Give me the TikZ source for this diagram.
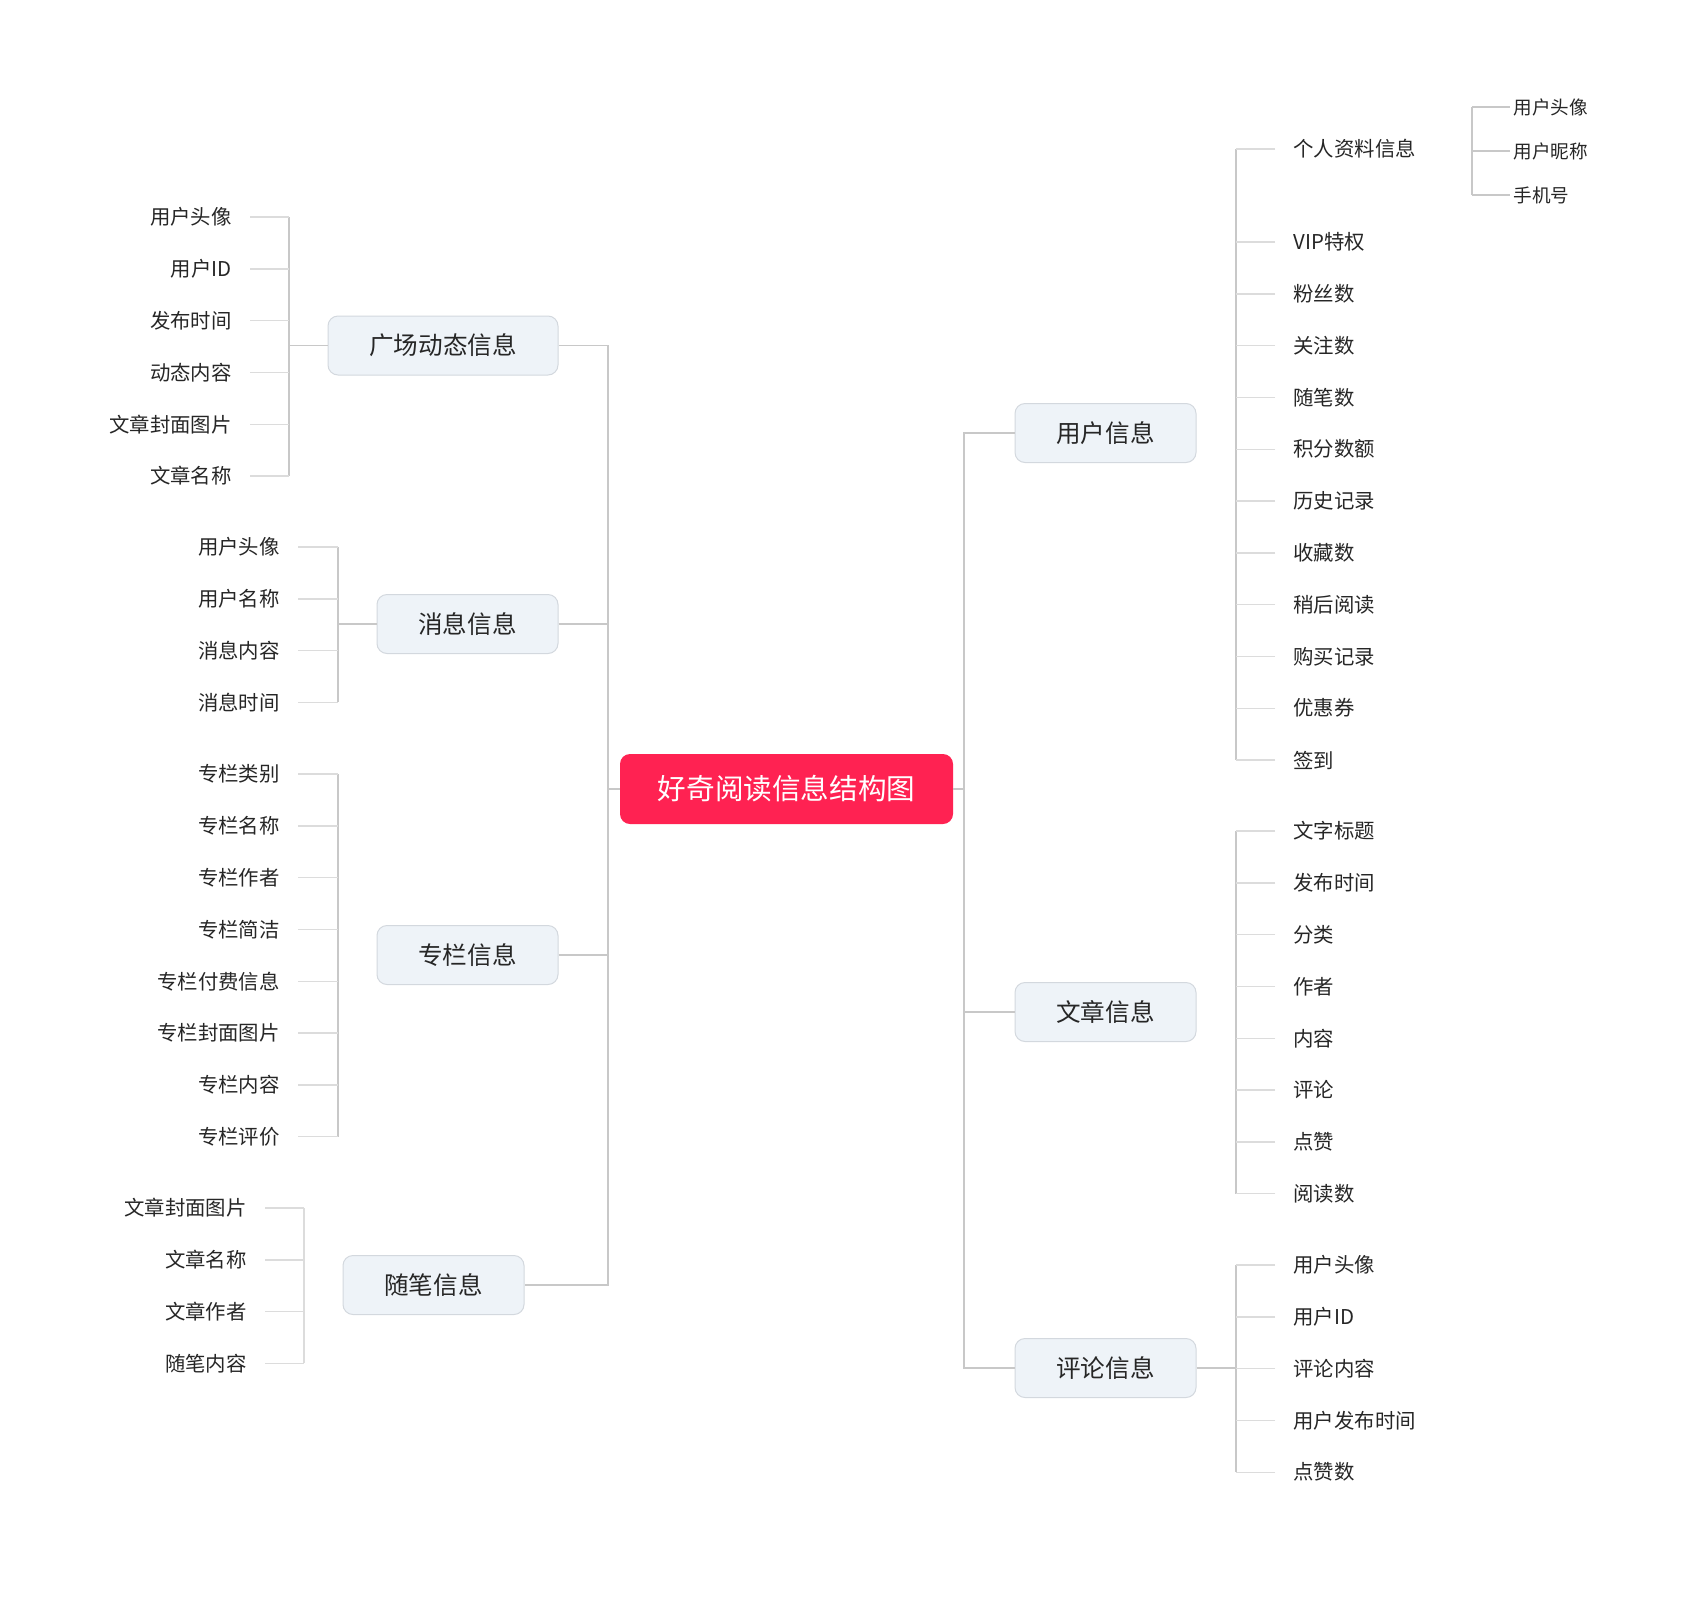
\documentclass[tikz,border=0pt]{standalone}
\usepackage{fontspec}
\setmainfont{Noto Sans CJK SC}
\usetikzlibrary{positioning}

\definecolor{rootred}{HTML}{FF2252}
\definecolor{boxfill}{HTML}{EEF3F8}
\definecolor{boxline}{HTML}{D3D8DE}
\definecolor{linkgray}{HTML}{C8C8C8}
\definecolor{stubgray}{HTML}{DCDCDC}
\definecolor{inkgray}{HTML}{262626}

\tikzset{
  root/.style = {fill=rootred, rounded corners=5pt, minimum width=166.5pt, minimum height=35pt,
    text=white, font=\fontsize{14.3pt}{16pt}\selectfont},
  branch/.style = {fill=boxfill, draw=boxline, line width=0.5pt, rounded corners=5pt,
    minimum width=90.5pt, minimum height=29.5pt, text=inkgray, font=\fontsize{12.3pt}{14pt}\selectfont},
  leafL/.style = {anchor=east, inner xsep=9pt, inner ysep=1pt, text=inkgray,
    font=\fontsize{10.2pt}{12pt}\selectfont},
  leafR/.style = {leafL, anchor=west},
  subleaf/.style = {leafR, inner xsep=1.5pt, font=\fontsize{9.3pt}{11pt}\selectfont},
  link/.style = {draw=linkgray, line width=0.7pt},
  stub/.style = {draw=stubgray, line width=0.7pt},
}

\begin{document}
\begin{tikzpicture} [x=0.5pt, y=-0.5pt, node distance = 25.9pt]
        \useasboundingbox (0,0) rectangle (1692,1596);

        % centre and branches
        \node (root) [root] at (786.5,789) {好奇阅读信息结构图};
        \node (gc) [branch, minimum width=115pt] at (443,345.5) {广场动态信息};
        \node (xx) [branch] at (467.5,624) {消息信息};
        \node (zl) [branch] at (467.5,955) {专栏信息};
        \node (sb) [branch] at (433.5,1285) {随笔信息};
        \node (yh) [branch] at (1105.5,433) {用户信息};
        \node (wz) [branch] at (1105.5,1012) {文章信息};
        \node (pl) [branch] at (1105.5,1368) {评论信息};

        \coordinate (ltrunk) at (608,789);
        \coordinate (rtrunk) at (964,789);
        \coordinate (gcbar) at (289,0);
        \coordinate (xxbar) at (338,0);
        \coordinate (zlbar) at (338,0);
        \coordinate (sbbar) at (304,0);
        \coordinate (rbar) at (1236,0);
        \coordinate (psbar) at (1472,0);

        % 广场动态信息
        \node (gc1) [leafL] at (250,217) {用户头像};
        \node (gc2) [below = of gc1.east, leafL] {用户ID};
        \node (gc3) [below = of gc2.east, leafL] {发布时间};
        \node (gc4) [below = of gc3.east, leafL] {动态内容};
        \node (gc5) [below = of gc4.east, leafL] {文章封面图片};
        \node (gc6) [below = of gc5.east, leafL] {文章名称};

        % 消息信息
        \node (xx1) [leafL] at (298,547) {用户头像};
        \node (xx2) [below = of xx1.east, leafL] {用户名称};
        \node (xx3) [below = of xx2.east, leafL] {消息内容};
        \node (xx4) [below = of xx3.east, leafL] {消息时间};

        % 专栏信息
        \node (zl1) [leafL] at (298,774) {专栏类别};
        \node (zl2) [below = of zl1.east, leafL] {专栏名称};
        \node (zl3) [below = of zl2.east, leafL] {专栏作者};
        \node (zl4) [below = of zl3.east, leafL] {专栏简洁};
        \node (zl5) [below = of zl4.east, leafL] {专栏付费信息};
        \node (zl6) [below = of zl5.east, leafL] {专栏封面图片};
        \node (zl7) [below = of zl6.east, leafL] {专栏内容};
        \node (zl8) [below = of zl7.east, leafL] {专栏评价};

        % 随笔信息
        \node (sb1) [leafL] at (265,1208) {文章封面图片};
        \node (sb2) [below = of sb1.east, leafL] {文章名称};
        \node (sb3) [below = of sb2.east, leafL] {文章作者};
        \node (sb4) [below = of sb3.east, leafL] {随笔内容};

        % 用户信息
        \node (yh1) [leafR] at (1275,149) {个人资料信息};
        \node (yh2) [below = 46.5pt of yh1.west, leafR] {VIP特权};
        \node (yh3) [below = of yh2.west, leafR] {粉丝数};
        \node (yh4) [below = of yh3.west, leafR] {关注数};
        \node (yh5) [below = of yh4.west, leafR] {随笔数};
        \node (yh6) [below = of yh5.west, leafR] {积分数额};
        \node (yh7) [below = of yh6.west, leafR] {历史记录};
        \node (yh8) [below = of yh7.west, leafR] {收藏数};
        \node (yh9) [below = of yh8.west, leafR] {稍后阅读};
        \node (yh10) [below = of yh9.west, leafR] {购买记录};
        \node (yh11) [below = of yh10.west, leafR] {优惠券};
        \node (yh12) [below = of yh11.west, leafR] {签到};

        \node (ps1) [subleaf] at (1510,107) {用户头像};
        \node (ps2) [below = 22pt of ps1.west, subleaf] {用户昵称};
        \node (ps3) [below = 22pt of ps2.west, subleaf] {手机号};

        % 文章信息
        \node (wz1) [leafR] at (1275,831) {文字标题};
        \node (wz2) [below = of wz1.west, leafR] {发布时间};
        \node (wz3) [below = of wz2.west, leafR] {分类};
        \node (wz4) [below = of wz3.west, leafR] {作者};
        \node (wz5) [below = of wz4.west, leafR] {内容};
        \node (wz6) [below = of wz5.west, leafR] {评论};
        \node (wz7) [below = of wz6.west, leafR] {点赞};
        \node (wz8) [below = of wz7.west, leafR] {阅读数};

        % 评论信息
        \node (pl1) [leafR] at (1275,1265) {用户头像};
        \node (pl2) [below = of pl1.west, leafR] {用户ID};
        \node (pl3) [below = of pl2.west, leafR] {评论内容};
        \node (pl4) [below = of pl3.west, leafR] {用户发布时间};
        \node (pl5) [below = of pl4.west, leafR] {点赞数};

        % trunks
        \draw [link] (root.west) -- (ltrunk);
        \draw [link] (gc.east) -| (ltrunk) |- (sb.east);
        \draw [link] (xx.east) -- (xx.east -| ltrunk);
        \draw [link] (zl.east) -- (zl.east -| ltrunk);
        \draw [link] (root.east) -- (rtrunk);
        \draw [link] (yh.west) -| (rtrunk) |- (pl.west);
        \draw [link] (wz.west) -- (wz.west -| rtrunk);

        % bars
        \draw [link] (gc.west) -- (gc.west -| gcbar);
        \draw [link] (gc1.east -| gcbar) -- (gc6.east -| gcbar);
        \draw [link] (xx.west) -- (xx.west -| xxbar);
        \draw [link] (xx1.east -| xxbar) -- (xx4.east -| xxbar);
        \draw [link] (zl1.east -| zlbar) -- (zl8.east -| zlbar);
        \draw [stub] (sb1.east -| sbbar) -- (sb4.east -| sbbar);
        \draw [link] (yh1.west -| rbar) -- (yh12.west -| rbar);
        \draw [link] (ps1.west -| psbar) -- (ps3.west -| psbar);
        \draw [link] (wz1.west -| rbar) -- (wz8.west -| rbar);
        \draw [link] (pl.east) -- (pl.east -| rbar);
        \draw [link] (pl1.west -| rbar) -- (pl5.west -| rbar);

        % stubs
        \path [stub] (gc1.east) edge (gc1.east -| gcbar) (gc2.east) edge (gc2.east -| gcbar)
                     (gc3.east) edge (gc3.east -| gcbar) (gc4.east) edge (gc4.east -| gcbar)
                     (gc5.east) edge (gc5.east -| gcbar) (gc6.east) edge (gc6.east -| gcbar);
        \path [stub] (xx1.east) edge (xx1.east -| xxbar) (xx2.east) edge (xx2.east -| xxbar)
                     (xx3.east) edge (xx3.east -| xxbar) (xx4.east) edge (xx4.east -| xxbar);
        \path [stub] (zl1.east) edge (zl1.east -| zlbar) (zl2.east) edge (zl2.east -| zlbar)
                     (zl3.east) edge (zl3.east -| zlbar) (zl4.east) edge (zl4.east -| zlbar)
                     (zl5.east) edge (zl5.east -| zlbar) (zl6.east) edge (zl6.east -| zlbar)
                     (zl7.east) edge (zl7.east -| zlbar) (zl8.east) edge (zl8.east -| zlbar);
        \path [stub] (sb1.east) edge (sb1.east -| sbbar) (sb2.east) edge (sb2.east -| sbbar)
                     (sb3.east) edge (sb3.east -| sbbar) (sb4.east) edge (sb4.east -| sbbar);
        \path [stub] (yh1.west) edge (yh1.west -| rbar) (yh2.west) edge (yh2.west -| rbar)
                     (yh3.west) edge (yh3.west -| rbar) (yh4.west) edge (yh4.west -| rbar)
                     (yh5.west) edge (yh5.west -| rbar) (yh6.west) edge (yh6.west -| rbar)
                     (yh7.west) edge (yh7.west -| rbar) (yh8.west) edge (yh8.west -| rbar)
                     (yh9.west) edge (yh9.west -| rbar) (yh10.west) edge (yh10.west -| rbar)
                     (yh11.west) edge (yh11.west -| rbar) (yh12.west) edge (yh12.west -| rbar);
        \path [link] (ps1.west) edge (ps1.west -| psbar) (ps2.west) edge (ps2.west -| psbar)
                     (ps3.west) edge (ps3.west -| psbar);
        \path [stub] (wz1.west) edge (wz1.west -| rbar) (wz2.west) edge (wz2.west -| rbar)
                     (wz3.west) edge (wz3.west -| rbar) (wz4.west) edge (wz4.west -| rbar)
                     (wz5.west) edge (wz5.west -| rbar) (wz6.west) edge (wz6.west -| rbar)
                     (wz7.west) edge (wz7.west -| rbar) (wz8.west) edge (wz8.west -| rbar);
        \path [stub] (pl1.west) edge (pl1.west -| rbar) (pl2.west) edge (pl2.west -| rbar)
                     (pl3.west) edge (pl3.west -| rbar) (pl4.west) edge (pl4.west -| rbar)
                     (pl5.west) edge (pl5.west -| rbar);

    \end{tikzpicture}
\end{document}
